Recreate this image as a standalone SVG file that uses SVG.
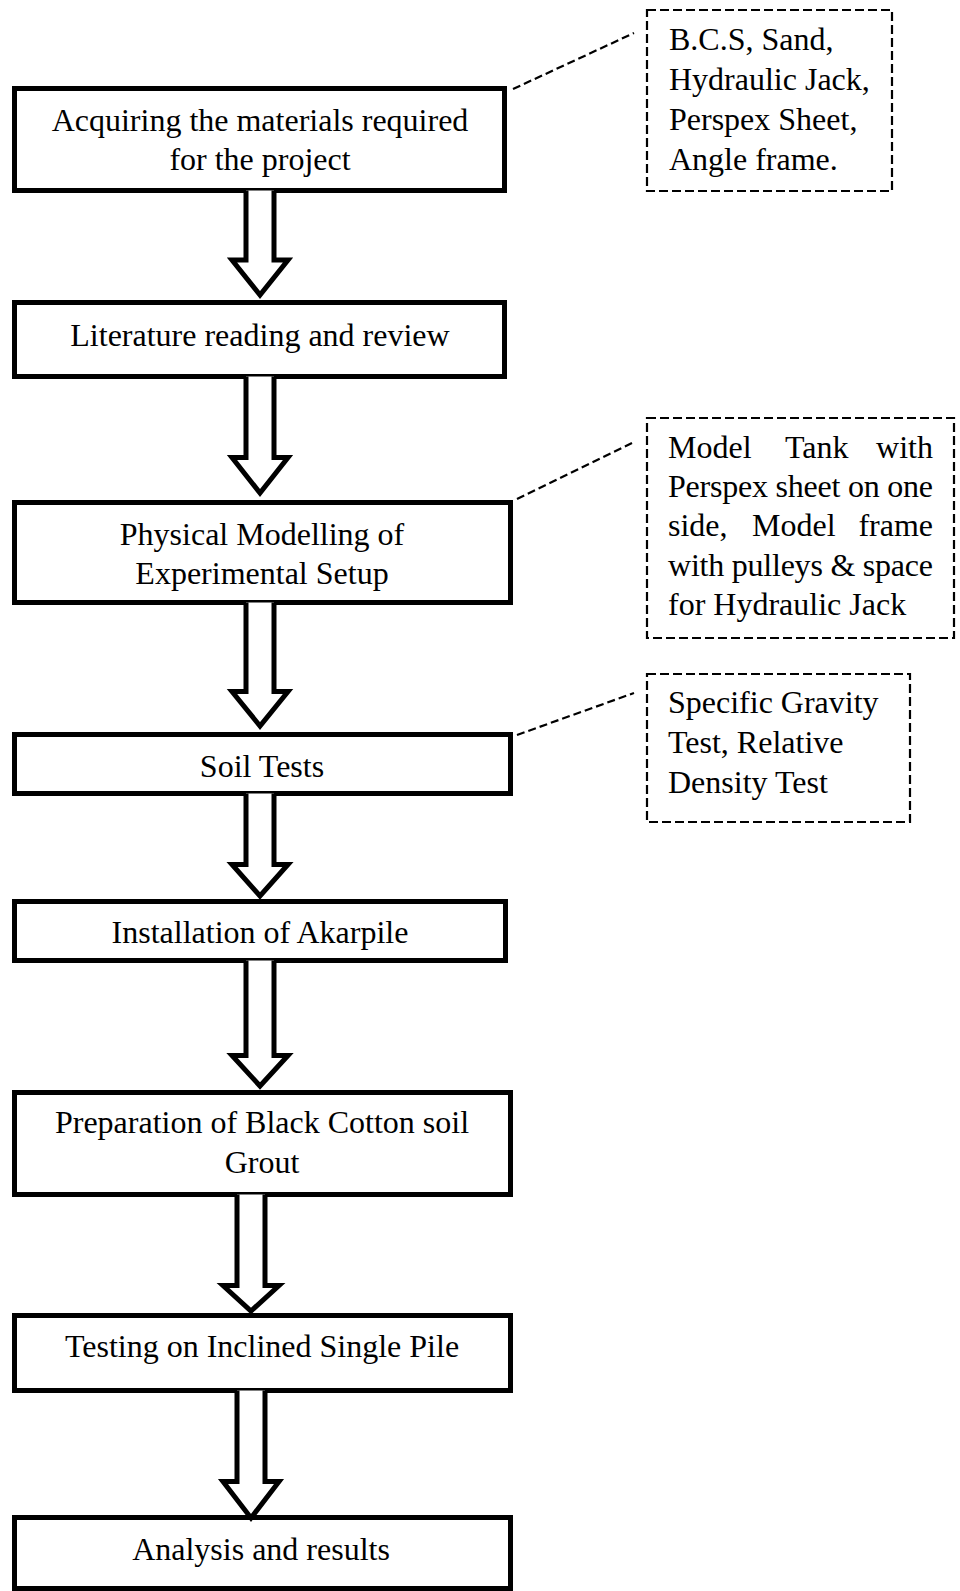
<svg xmlns="http://www.w3.org/2000/svg" width="960" height="1591" viewBox="0 0 960 1591">
<style>
.box{fill:#fff;stroke:#000;stroke-width:5}
.note{fill:#fff;stroke:#000;stroke-width:2.2;stroke-dasharray:9 4}
.lead{fill:none;stroke:#000;stroke-width:2.2;stroke-dasharray:8 4}
.arr{fill:#fff;stroke:#000;stroke-width:5;stroke-linejoin:miter;stroke-miterlimit:10}
text{font-family:"Liberation Serif","Times New Roman",serif;font-size:32px;fill:#000}
.c{text-anchor:middle}
.e{text-anchor:end}
</style>
<rect width="960" height="1591" fill="#fff"/>
<g id="n1"><rect class="box" x="14.5" y="88.5" width="490" height="102"/>
<text class="c" x="260" y="131">Acquiring the materials required</text>
<text class="c" x="260" y="170">for the project</text></g>
<g id="n2"><rect class="box" x="14.5" y="302.5" width="490" height="74"/>
<text class="c" x="260" y="346">Literature reading and review</text></g>
<g id="n3"><rect class="box" x="14.5" y="502.5" width="496" height="100"/>
<text class="c" x="262" y="545">Physical Modelling of</text>
<text class="c" x="262" y="584">Experimental Setup</text></g>
<g id="n4"><rect class="box" x="14.5" y="734.5" width="496" height="59"/>
<text class="c" x="262" y="777">Soil Tests</text></g>
<g id="n5"><rect class="box" x="14.5" y="901.5" width="491" height="59"/>
<text class="c" x="260" y="943">Installation of Akarpile</text></g>
<g id="n6"><rect class="box" x="14.5" y="1092.5" width="496" height="102"/>
<text class="c" x="262" y="1133">Preparation of Black Cotton soil</text>
<text class="c" x="262" y="1173">Grout</text></g>
<g id="n7"><rect class="box" x="14.5" y="1315.5" width="496" height="75"/>
<text class="c" x="262" y="1357">Testing on Inclined Single Pile</text></g>
<g id="n8"><rect class="box" x="14.5" y="1517.5" width="496" height="71"/>
<text class="c" x="261" y="1560">Analysis and results</text></g>
<g id="note1"><rect class="note" x="647" y="10" width="245" height="181"/>
<text x="669" y="50">B.C.S, Sand,</text>
<text x="669" y="90">Hydraulic Jack,</text>
<text x="669" y="130">Perspex Sheet,</text>
<text x="669" y="170">Angle frame.</text></g>
<g id="note2"><rect class="note" x="647" y="418" width="307" height="220"/>
<text x="668" y="458">Model</text><text x="785" y="458">Tank</text><text class="e" x="933" y="458">with</text>
<text x="668" y="497" textLength="265" lengthAdjust="spacing">Perspex sheet on one</text>
<text x="668" y="536">side,</text><text x="752" y="536">Model</text><text class="e" x="933" y="536">frame</text>
<text x="668" y="576" textLength="265" lengthAdjust="spacing">with pulleys &amp; space</text>
<text x="668" y="615">for Hydraulic Jack</text></g>
<g id="note3"><rect class="note" x="647" y="674" width="263" height="148"/>
<text x="668" y="713">Specific Gravity</text>
<text x="668" y="753">Test, Relative</text>
<text x="668" y="793">Density Test</text></g>
<g id="connectors">
<path class="arr" d="M246 190.5V260H232L260 295L288 260H274V190.5"/>
<path class="arr" d="M246 376.5V457.5H232L260 493L288 457.5H274V376.5"/>
<path class="arr" d="M246 602.5V691.5H232L260 726L288 691.5H274V602.5"/>
<path class="arr" d="M246 793.5V864.5H232L260 896L288 864.5H274V793.5"/>
<path class="arr" d="M246 960.5V1055.5H232L260 1086L288 1055.5H274V960.5"/>
<path class="arr" d="M237 1194.5V1285.5H223L251 1311L279 1285.5H265V1194.5"/>
<path class="arr" d="M237 1390.5V1481.5H223L251 1518L279 1481.5H265V1390.5"/>
<line class="lead" x1="513" y1="89" x2="634" y2="33"/>
<line class="lead" x1="517" y1="499" x2="632" y2="443"/>
<line class="lead" x1="517" y1="735" x2="634" y2="693"/>
</g>
</svg>
